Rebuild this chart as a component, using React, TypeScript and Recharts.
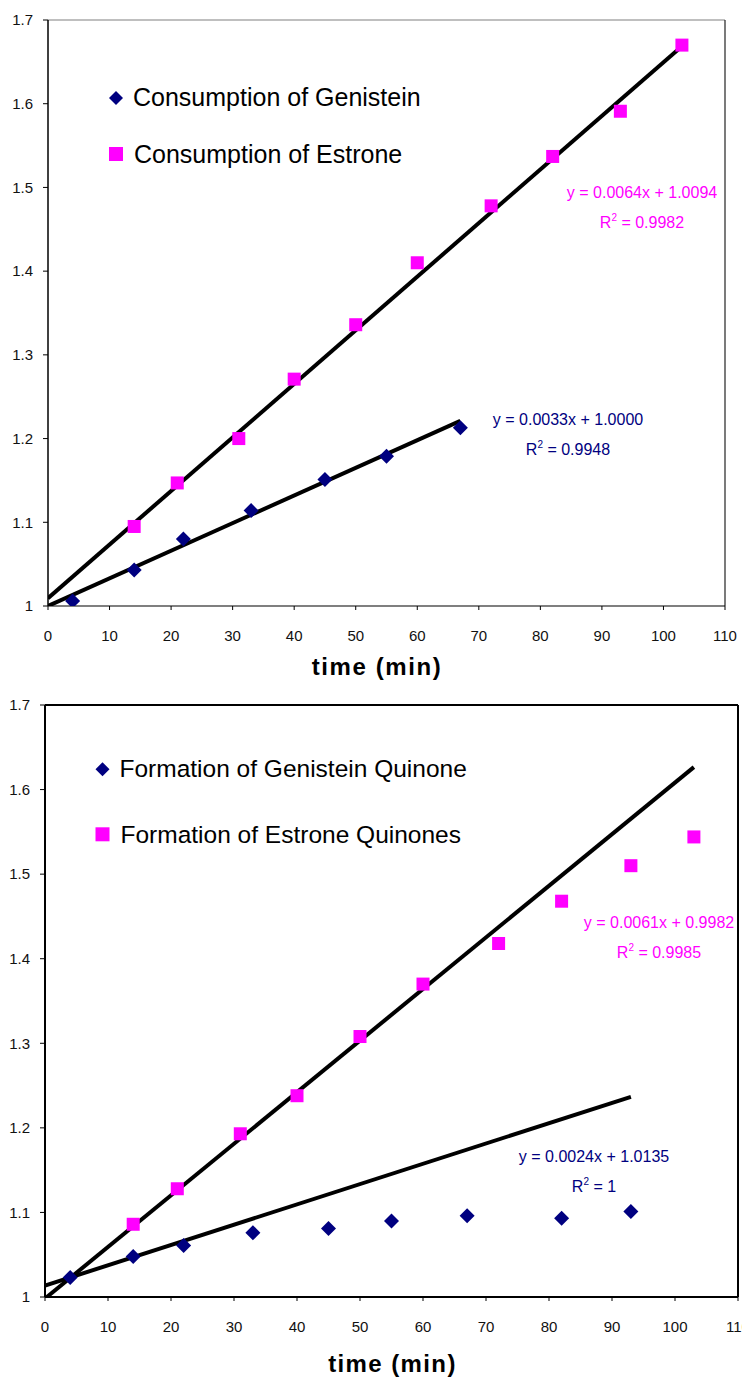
import { ScatterChart, Scatter, XAxis, YAxis, ReferenceLine } from "recharts";

// top panel: consumption
const genTime = [4, 14, 22, 33, 45, 55, 67];
const genConsumption = [1.006, 1.043, 1.08, 1.114, 1.151, 1.179, 1.213];
const estTime = [14, 21, 31, 40, 50, 60, 72, 82, 93, 103];
const estConsumption = [1.095, 1.147, 1.2, 1.271, 1.336, 1.41, 1.478, 1.537, 1.591, 1.67];

// bottom panel: formation
const gqTime = [4, 14, 22, 33, 45, 55, 67, 82, 93];
const gqFormation = [1.023, 1.048, 1.061, 1.076, 1.081, 1.09, 1.096, 1.093, 1.101];
const eqTime = [14, 21, 31, 40, 50, 60, 72, 82, 93, 103];
const eqFormation = [1.086, 1.128, 1.193, 1.238, 1.308, 1.37, 1.418, 1.468, 1.51, 1.544];

// linear fits (slope, intercept, last x) as printed on the chart
const fitGen = { m: 0.0033, b: 1.0, xEnd: 67 };
const fitEst = { m: 0.0064, b: 1.0094, xEnd: 103 };
const fitGq = { m: 0.0024, b: 1.0135, xEnd: 93 };
const fitEq = { m: 0.0061, b: 0.9982, xEnd: 103 };

const xTicks = [0, 10, 20, 30, 40, 50, 60, 70, 80, 90, 100, 110];
const yTicks = [1, 1.1, 1.2, 1.3, 1.4, 1.5, 1.6, 1.7];

const NAVY = "#000080";
const MAGENTA = "#FF00FF";
const FONT = "'Liberation Sans', Arial, sans-serif";

const zip = (xs: number[], ys: number[]) => xs.map((x, i) => ({ x, y: ys[i] }));
const fitSegment = (f: { m: number; b: number; xEnd: number }) => [
  { x: 0, y: f.b },
  { x: f.xEnd, y: +(f.m * f.xEnd + f.b).toFixed(4) },
];

const Diamond = (props: any) => {
  const { cx, cy } = props;
  if (cx == null || cy == null) return <g />;
  const r = 7.5;
  return <path d={`M${cx},${cy - r}L${cx + r},${cy}L${cx},${cy + r}L${cx - r},${cy}Z`} fill={NAVY} />;
};

const Square = (props: any) => {
  const { cx, cy } = props;
  if (cx == null || cy == null) return <g />;
  return <rect x={cx - 6.5} y={cy - 6.5} width={13} height={13} fill={MAGENTA} />;
};

const tickStyle = { fontFamily: FONT, fontSize: 15, fill: "#111" };

function FitText({ x, y, color, eq, r2 }: { x: number; y: number; color: string; eq: string; r2: string }) {
  return (
    <g fontFamily={FONT} fontSize={16} fill={color} textAnchor="middle">
      <text x={x} y={y}>{eq}</text>
      <text x={x} y={y + 30}>
        R<tspan dy={-7} fontSize={10}>2</tspan>
        <tspan dy={7}> = {r2}</tspan>
      </text>
    </g>
  );
}

function LegendRows({ x, y1, y2, size, t1, t2 }: { x: number; y1: number; y2: number; size: number; t1: string; t2: string }) {
  const r = 7;
  return (
    <g fontFamily={FONT} fontSize={size} fill="#000">
      <path d={`M${x},${y1 - r}L${x + r},${y1}L${x},${y1 + r}L${x - r},${y1}Z`} fill={NAVY} />
      <text x={x + 17} y={y1 + 7.5}>{t1}</text>
      <rect x={x - 7} y={y2 - 7} width={14} height={14} fill={MAGENTA} />
      <text x={x + 18} y={y2 + 8.5}>{t2}</text>
    </g>
  );
}

export default function App() {
  return (
    <div style={{ position: "absolute", left: 0, top: 0, width: 742, height: 1378, background: "#fff" }}>
      <div style={{ position: "absolute", left: 0, top: 0 }}>
        <ScatterChart width={742} height={690} margin={{ top: 20, right: 17, bottom: 34, left: 0 }}>
          <XAxis
            type="number"
            dataKey="x"
            domain={[0, 110]}
            ticks={xTicks}
            interval={0}
            height={50}
            tickSize={4}
            tickMargin={20}
            tick={tickStyle}
            axisLine={{ stroke: "#000", strokeWidth: 1.2 }}
            tickLine={{ stroke: "#000" }}
          />
          <YAxis
            type="number"
            dataKey="y"
            domain={[1, 1.7]}
            ticks={yTicks}
            interval={0}
            width={48}
            tickSize={5}
            tickMargin={10}
            tick={tickStyle}
            axisLine={{ stroke: "#000", strokeWidth: 1.5 }}
            tickLine={{ stroke: "#000" }}
            allowDataOverflow
          />
          <ReferenceLine y={1.7} stroke="#808080" strokeWidth={1.2} />
          <ReferenceLine x={110} stroke="#222" strokeWidth={1.2} />
          <Scatter data={zip(estTime, estConsumption)} shape={Square} isAnimationActive={false} />
          <Scatter data={zip(genTime, genConsumption)} shape={Diamond} isAnimationActive={false} />
          <ReferenceLine segment={fitSegment(fitEst)} stroke="#000" strokeWidth={4} ifOverflow="hidden" />
          <ReferenceLine segment={fitSegment(fitGen)} stroke="#000" strokeWidth={4} ifOverflow="hidden" />
          <LegendRows x={116} y1={98} y2={154} size={25} t1="Consumption of Genistein" t2="Consumption of Estrone" />
          <FitText x={642} y={197.5} color={MAGENTA} eq="y = 0.0064x + 1.0094" r2="0.9982" />
          <FitText x={568} y={425} color={NAVY} eq="y = 0.0033x + 1.0000" r2="0.9948" />
          <text x={377} y={675} textAnchor="middle" fontFamily={FONT} fontSize={24} fontWeight="bold" letterSpacing={1.6}>
            time (min)
          </text>
        </ScatterChart>
      </div>
      <div style={{ position: "absolute", left: 0, top: 690 }}>
        <ScatterChart width={742} height={688} margin={{ top: 15, right: 4, bottom: 31, left: 0 }}>
          <XAxis
            type="number"
            dataKey="x"
            domain={[0, 110]}
            ticks={xTicks}
            interval={0}
            height={50}
            tickSize={4}
            tickMargin={20}
            tick={tickStyle}
            axisLine={{ stroke: "#000", strokeWidth: 2 }}
            tickLine={{ stroke: "#000" }}
          />
          <YAxis
            type="number"
            dataKey="y"
            domain={[1, 1.7]}
            ticks={yTicks}
            interval={0}
            width={45}
            tickSize={5}
            tickMargin={10}
            tick={tickStyle}
            axisLine={{ stroke: "#000", strokeWidth: 2 }}
            tickLine={{ stroke: "#000" }}
            allowDataOverflow
          />
          <ReferenceLine y={1.7} stroke="#000" strokeWidth={2} />
          <ReferenceLine x={110} stroke="#000" strokeWidth={2} />
          <Scatter data={zip(eqTime, eqFormation)} shape={Square} isAnimationActive={false} />
          <Scatter data={zip(gqTime, gqFormation)} shape={Diamond} isAnimationActive={false} />
          <ReferenceLine segment={fitSegment(fitEq)} stroke="#000" strokeWidth={4} ifOverflow="hidden" />
          <ReferenceLine segment={fitSegment(fitGq)} stroke="#000" strokeWidth={4} ifOverflow="hidden" />
          <LegendRows x={102.5} y1={79.3} y2={144.3} size={24.5} t1="Formation of Genistein Quinone" t2="Formation of Estrone Quinones" />
          <FitText x={659} y={238.3} color={MAGENTA} eq="y = 0.0061x + 0.9982" r2="0.9985" />
          <FitText x={594} y={471.7} color={NAVY} eq="y = 0.0024x + 1.0135" r2="1" />
          <text x={392.5} y={682} textAnchor="middle" fontFamily={FONT} fontSize={24} fontWeight="bold" letterSpacing={1.4}>
            time (min)
          </text>
        </ScatterChart>
      </div>
    </div>
  );
}
